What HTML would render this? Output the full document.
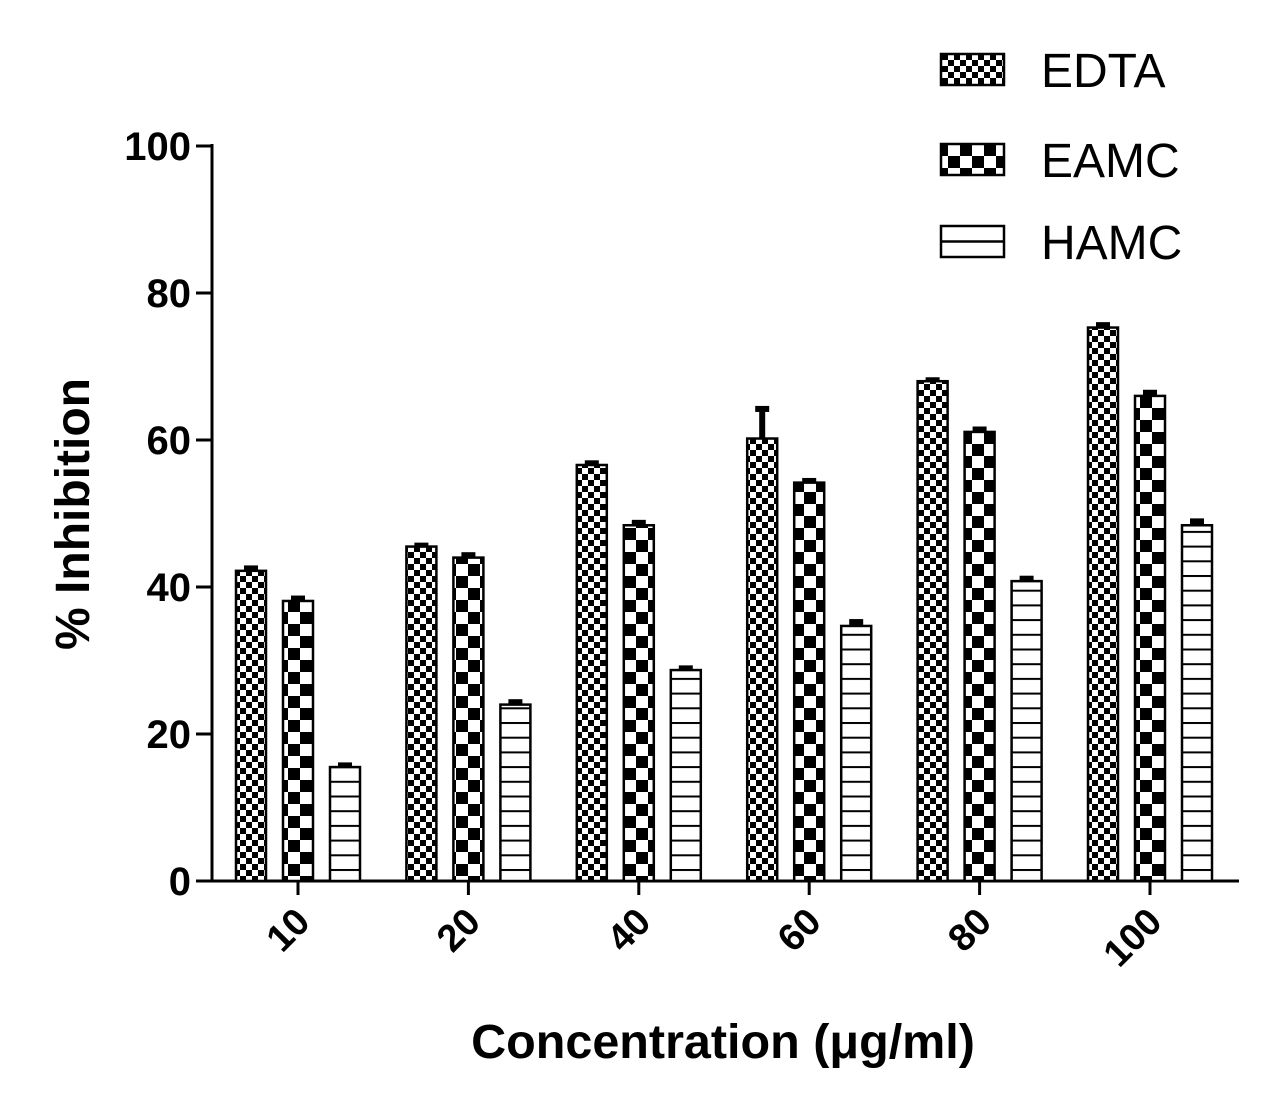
<!DOCTYPE html>
<html><head><meta charset="utf-8"><style>
html,body{margin:0;padding:0;background:#fff;}
svg text{font-family:"Liberation Sans",Arial,sans-serif;}
</style></head><body>
<svg id="chart" width="1266" height="1113" viewBox="0 0 1266 1113" xmlns="http://www.w3.org/2000/svg">
<defs>
<pattern id="pEDTA" patternUnits="userSpaceOnUse" width="12" height="12">
<rect width="12" height="12" fill="#fff"/><rect width="6" height="6" fill="#000"/><rect x="6" y="6" width="6" height="6" fill="#000"/></pattern>
<pattern id="pEAMC" patternUnits="userSpaceOnUse" width="24" height="24">
<rect width="24" height="24" fill="#fff"/><rect width="12" height="12" fill="#000"/><rect x="12" y="12" width="12" height="12" fill="#000"/></pattern>
<pattern id="pHAMC" patternUnits="userSpaceOnUse" width="10" height="14.7" y="1.7">
<rect width="10" height="14.7" fill="#fff"/><rect y="0" width="10" height="2" fill="#000"/></pattern>
</defs>
<g id="axes"></g>
<g id="bars"></g>
<g id="legend"></g>
</svg>
<script>
const categories = ["10","20","40","60","80","100"];
const edta = [42.2, 45.5, 56.6, 60.2, 68.0, 75.3];
const edtaErr = [0.6, 0.4, 0.5, 4.3, 0.4, 0.6];
const eamc = [38.1, 44.0, 48.4, 54.2, 61.1, 66.0];
const eamcErr = [0.6, 0.6, 0.6, 0.5, 0.6, 0.7];
const hamc = [15.5, 24.0, 28.7, 34.7, 40.8, 48.4];
const hamcErr = [0.5, 0.6, 0.5, 0.8, 0.6, 0.8];
const yTicks = [0, 20, 40, 60, 80, 100];
const seriesNames = ["EDTA", "EAMC", "HAMC"];

const NS = "http://www.w3.org/2000/svg";
const y0 = 881, yTop = 146;
function yScale(v){ return y0 - (v/100)*(y0-yTop); }
function xScale(i){ return 298 + i*170.4; }
function mk(tag, attrs, parent){ const e=document.createElementNS(NS,tag); for(const k in attrs) e.setAttribute(k,attrs[k]); parent.appendChild(e); return e; }

const axes = document.getElementById('axes');
const yAxis = mk('line',{x1:212,y1:144,x2:212,y2:882,stroke:'#000','stroke-width':3},axes);


const xAxis = mk('line',{x1:211,y1:881,x2:1239,y2:881,stroke:'#000','stroke-width':3},axes);


yTicks.forEach(t=>{
  const y=yScale(t);
  const tk=mk('line',{x1:196,y1:y,x2:212,y2:y,stroke:'#000','stroke-width':3},axes);
  
  
  const lb=mk('text',{x:191,y:y+14,'text-anchor':'end','font-size':40,'font-weight':'bold'},axes);
  lb.textContent=t;
  
  
});
categories.forEach((c,i)=>{
  const x=xScale(i);
  const tk=mk('line',{x1:x,y1:881,x2:x,y2:895,stroke:'#000','stroke-width':3},axes);
  
  
  const ax=x+14, ay=924;
  const lb=mk('text',{x:ax,y:ay,'text-anchor':'end','font-size':38,'font-weight':'bold',transform:`rotate(-45 ${ax} ${ay})`},axes);
  lb.textContent=c;
  
  
});
const xt=mk('text',{x:723,y:1058,'text-anchor':'middle','font-size':48.5,'font-weight':'bold'},axes);
xt.textContent='Concentration (μg/ml)';


const yt=mk('text',{x:89,y:514,'text-anchor':'middle','font-size':48,'font-weight':'bold',transform:'rotate(-90 89 514)'},axes);
yt.textContent='% Inhibition';



const bars=document.getElementById('bars');
const series=[[edta,edtaErr,'pEDTA'],[eamc,eamcErr,'pEAMC'],[hamc,hamcErr,'pHAMC']];
series.forEach((s,si)=>{
  s[0].forEach((v,i)=>{
    const cx=xScale(i)+(si-1)*47;
    const top=yScale(v);
    const et=yScale(v+s[1][i]);
    const eb=mk('rect',{x:cx-3,y:et,width:6,height:top-et+1,fill:'#000'},bars);
    
    
    const cap=mk('rect',{x:cx-7,y:et-1,width:14,height:6,fill:'#000'},bars);
    
    
    const r=mk('rect',{x:cx-15,y:top,width:30,height:y0-top,fill:`url(#${s[2]})`,stroke:'#000','stroke-width':2.5},bars);
    
    
  });
});

const legend=document.getElementById('legend');
const ly=[54,144,226];
seriesNames.forEach((n,i)=>{
  const b=mk('rect',{x:941,y:ly[i],width:63,height:31,fill:n==='HAMC'?'#fff':`url(#p${n})`,stroke:'#000','stroke-width':2.5},legend);
  
  
  if(n==='HAMC'){
    const ml=mk('line',{x1:941,y1:ly[i]+15.5,x2:1004,y2:ly[i]+15.5,stroke:'#000','stroke-width':2.5},legend);
    
    
  }
  const t=mk('text',{x:1041,y:ly[i]+33,'font-size':48},legend);
  t.textContent=n;
  
  
});
</script>
</body></html>
